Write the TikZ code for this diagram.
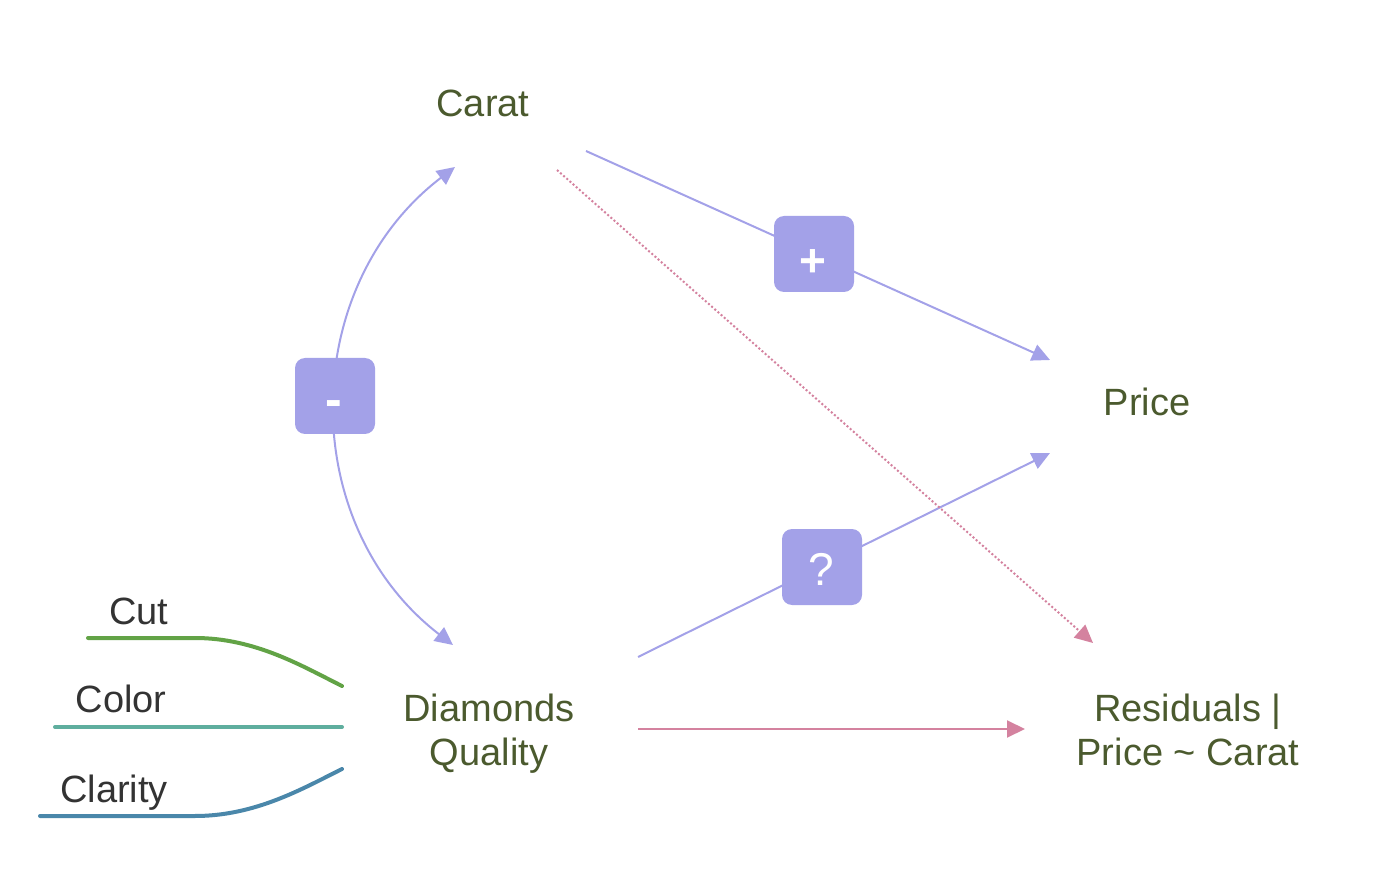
\documentclass[tikz,border=0pt]{standalone}
\usepackage{fontspec}
\setmainfont{Liberation Sans}
\usetikzlibrary{arrows.meta}
\definecolor{txt}{HTML}{4B5A2E}
\definecolor{lab}{HTML}{333333}
\definecolor{purp}{HTML}{A3A1E8}
\definecolor{pinkc}{HTML}{D4829F}
\definecolor{cutc}{HTML}{62A346}
\definecolor{colc}{HTML}{5FAE9E}
\definecolor{clac}{HTML}{4A87AA}
\begin{document}
\begin{tikzpicture}[x=1pt,y=-1pt,
  big/.style={font=\fontsize{38}{44}\selectfont, text=txt, inner sep=0pt, align=center},
  lbl/.style={font=\fontsize{38}{44}\selectfont, text=lab, inner sep=0pt, anchor=base},
  sign/.style={fill=purp, rounded corners=10pt, minimum width=80pt, minimum height=76pt, inner sep=0pt},
  symb/.style={text=white, inner sep=0pt, anchor=base},
  parr/.style={draw=purp, line width=2pt, -{Triangle[length=18pt,width=17pt]}},
  pinkarr/.style={draw=pinkc, line width=2pt, -{Triangle[length=18pt,width=17pt]}},
  pinkdot/.style={draw=pinkc, line width=2pt, dash pattern=on 2pt off 2.2pt, -{Triangle[length=18pt,width=17pt]}},
  feat/.style={line width=4pt, line cap=round}
]
\useasboundingbox (0,0) rectangle (1382,874);
% text nodes
\node[big, anchor=base] (carat) at (483,117) {Carat};
\node[big, anchor=base] (price) at (1147,416) {Price};
\node[big, anchor=north] (dq) at (489,694) {Diamonds\\Quality};
\node[big, anchor=north] (resid) at (1188,694) {Residuals |\\Price \textasciitilde{} Carat};
\node[lbl] (cut) at (139,624) {Cut};
\node[lbl] (color) at (121,712) {Color};
\node[lbl] (clarity) at (114,802) {Clarity};
% ports
\coordinate (caratR) at (586,151);
\coordinate (caratD) at (557,170);
\coordinate (arcTop) at (455,167);
\coordinate (arcBot) at (453,645);
\coordinate (priceT) at (1050,360);
\coordinate (priceB) at (1050,453);
\coordinate (dqR) at (638,657);
\coordinate (dqE) at (638,729);
\coordinate (residT) at (1093,643);
\coordinate (residL) at (1025,729);
\coordinate (cutS) at (88,638);
\coordinate (cutM) at (195,638);
\coordinate (cutE) at (342,686);
\coordinate (colS) at (55,727);
\coordinate (colE) at (342,727);
\coordinate (claS) at (40,816);
\coordinate (claM) at (195,816);
\coordinate (claE) at (342,769);
% feature lines
\draw[feat, draw=cutc] (cutS) -- (cutM) .. controls +(60,0) and +(-40,-20) .. (cutE);
\draw[feat, draw=colc] (colS) -- (colE);
\draw[feat, draw=clac] (claS) -- (claM) .. controls +(60,0) and +(-40,20) .. (claE);
% connectors
\draw[parr] (caratR) -- (priceT);
\draw[parr] (dqR) -- (priceB);
\draw[draw=purp, line width=2pt, {Triangle[length=18pt,width=17pt]}-{Triangle[length=18pt,width=17pt]}]
  (arcBot) .. controls +(-157,-121) and +(-157,120) .. (arcTop);
\draw[pinkdot] (caratD) -- (residT);
\draw[pinkarr] (dqE) -- (residL);
% sign boxes
\node[sign] (plus) at (814,254) {};
\node[sign] (minus) at (335,396) {};
\node[sign] (quest) at (822,567) {};
\node[symb, font=\fontsize{46}{50}\selectfont\bfseries] (plusT) at (813,277) {+};
\node[symb, font=\fontsize{50}{54}\selectfont\bfseries] (minusT) at (334,417) {-};
\node[symb, font=\fontsize{46}{50}\selectfont] (questT) at (821,585) {?};
\end{tikzpicture}
\end{document}
